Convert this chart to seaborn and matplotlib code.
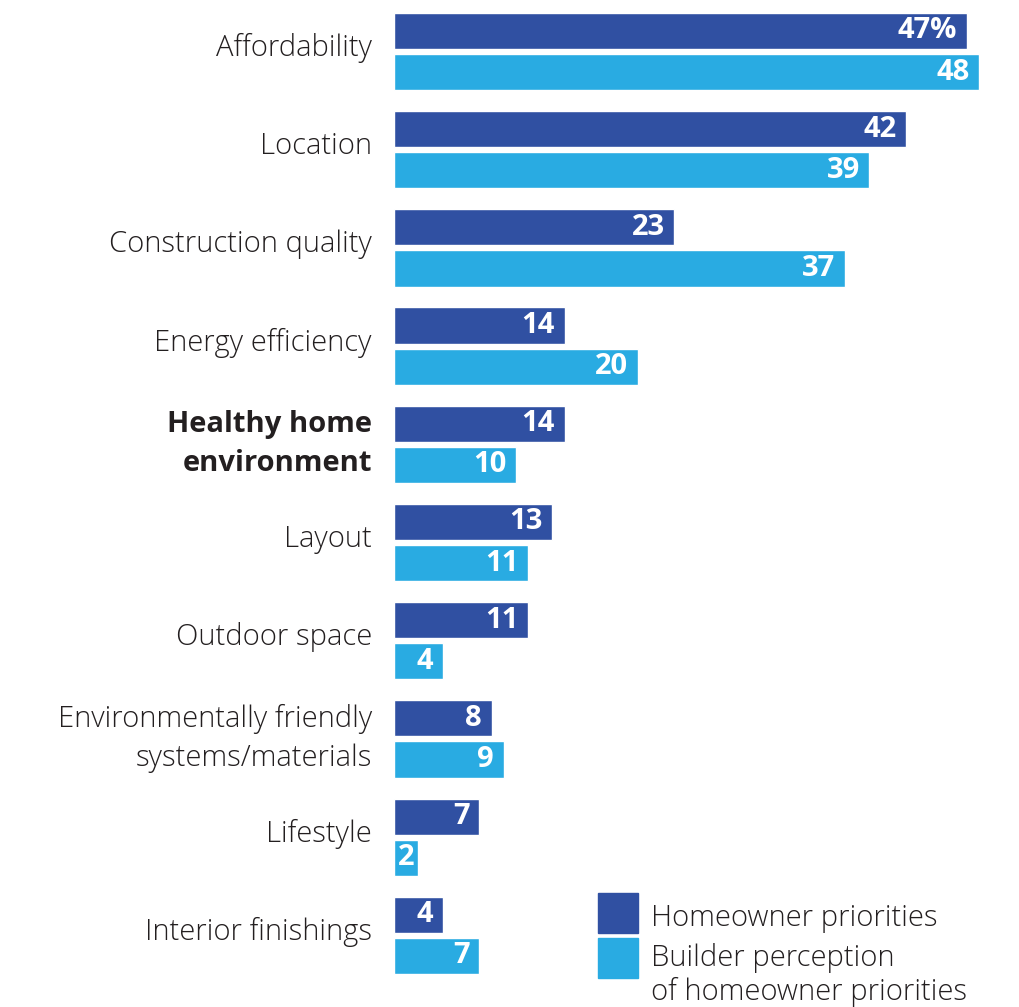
import numpy as np
import pandas as pd
import matplotlib.pyplot as plt
import seaborn as sns
from matplotlib.patches import Rectangle
from matplotlib.transforms import ScaledTranslation

# Chart data
categories = ['Affordability', 'Location', 'Construction quality', 'Energy efficiency',
              'Healthy home\nenvironment', 'Layout', 'Outdoor space',
              'Environmentally friendly\nsystems/materials', 'Lifestyle', 'Interior finishings']
homeowner = [47, 42, 23, 14, 14, 13, 11, 8, 7, 4]
builder = [48, 39, 37, 20, 10, 11, 4, 9, 2, 7]
series = ['Homeowner priorities', 'Builder perception\nof homeowner priorities']
colors = ['#3050A2', '#29ABE2']

df = pd.DataFrame({
    'category': categories * 2,
    'series': [series[0]] * len(categories) + [series[1]] * len(categories),
    'value': homeowner + builder,
})

sns.set_theme(style='white')
plt.rcParams['font.family'] = ['Open Sans', 'DejaVu Sans']
txt_color = '#231F20'
fsize = 21

fig = plt.figure(figsize=(10.19, 10.07), dpi=100)
ax = fig.add_axes([394 / 1019, 0.0224, 1 - 394 / 1019, 0.9752])

sns.barplot(data=df, y='category', x='value', hue='series', order=categories,
            hue_order=series, palette=colors, orient='h', width=0.837, gap=0.12,
            saturation=1, legend=False, ax=ax)

ax.set_xlim(0, (1019 - 394) / 12.19)
ax.set_xlabel('')
ax.set_ylabel('')
ax.set_xticks([])
sns.despine(ax=ax, left=True, bottom=True)
ax.tick_params(axis='y', length=0, pad=16, labelsize=fsize, labelcolor=txt_color)
for tick in ax.yaxis.get_major_ticks():
    lbl = tick.label1
    lbl.set_fontweight('light')
    lbl.set_linespacing(1.45)
    if lbl.get_text().startswith('Healthy'):
        lbl.set_fontweight('bold')
    dy = 9 if '\n' in lbl.get_text() else 7
    lbl.set_transform(lbl.get_transform() + ScaledTranslation(0, dy / 100, fig.dpi_scale_trans))

# value labels inside bar ends
label_sets = [[f'{v}%' if i == 0 else str(v) for i, v in enumerate(homeowner)],
              [str(v) for v in builder]]
for cont, labs, vals in zip(ax.containers, label_sets, [homeowner, builder]):
    texts = ax.bar_label(cont, labels=labs, padding=-7, color='white',
                         fontsize=fsize, fontweight='bold')
    for t, v in zip(texts, vals):
        t.set_ha('right')
        if v < 3:
            # too short for right alignment, centre it in the bar
            t.set_ha('center')
            t.xy = (v / 2, t.xy[1])
            t.xyann = (0, 0)

# legend
fig.add_artist(Rectangle((598 / 1019, 1 - 933 / 1007), 40 / 1019, 40 / 1007,
                         color=colors[0], transform=fig.transFigure))
fig.add_artist(Rectangle((598 / 1019, 1 - 978 / 1007), 40 / 1019, 40 / 1007,
                         color=colors[1], transform=fig.transFigure))
fig.text(651 / 1019, 1 - 926 / 1007, series[0], fontsize=fsize, fontweight='light',
         color=txt_color, va='baseline')
fig.text(651 / 1019, 1 - 975 / 1007, series[1], fontsize=fsize, fontweight='light',
         color=txt_color, va='center', linespacing=1.15)

fig.savefig('out.png', dpi=100)
